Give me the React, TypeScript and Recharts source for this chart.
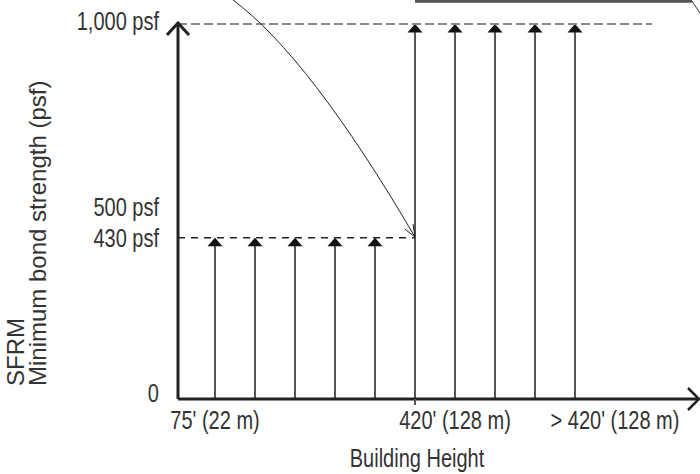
import React from 'react';
import { Bar, ComposedChart, ReferenceDot, ReferenceLine, XAxis, YAxis } from 'recharts';

// arrow slots along the height axis and the bond strength each one reaches
const slots = [1, 2, 3, 4, 5, 6, 7, 8, 9, 10];
const strengths = [430, 430, 430, 430, 430, 1000, 1000, 1000, 1000, 1000];

const xTicks = [1, 6, 7, 11];
const xTickLabels: Record<number, string> = {
    1: "75' (22 m)",
    7: "420' (128 m)",
    11: '> 420\' (128 m)',
};
const yTicks = [0, 430, 500, 1000];
const yTickLabels = ['0', '430 psf', '500 psf', '1,000 psf'];

const xDomain = [0.075, 13.1];
const yDomain = [0, 1000];

const data = slots.map((slot, i) => ({ slot, strength: strengths[i] }));

const FONT = "'Liberation Sans', Arial, sans-serif";

// no condensed face is installed, so squeeze Liberation Sans horizontally
const NarrowText = ({ x, y, anchor, size, children }: any) => (
    <g transform={`translate(${x},${y}) scale(0.8,1)`}>
        <text x={0} y={0} textAnchor={anchor} fontFamily={FONT} fontSize={size} fill="#333">
            {children}
        </text>
    </g>
);

const ArrowBar = (props: any) => {
    const { x, y, width, height } = props;
    const cx = x + width / 2;
    return (
        <g>
            <line x1={cx} y1={y + height} x2={cx} y2={y + 5} stroke="#555" strokeWidth={2} />
            <polygon points={`${cx},${y} ${cx - 7.5},${y + 8.5} ${cx + 7.5},${y + 8.5}`} fill="#111" />
        </g>
    );
};

const XTick = (props: any) => {
    const { x, y, payload } = props;
    const label = xTickLabels[payload.value];
    if (!label) {
        return <line x1={x} y1={y} x2={x} y2={y + 6} stroke="#555" strokeWidth={2} />;
    }
    return (
        <NarrowText x={x} y={y + 30} anchor="middle" size={25}>
            {label}
        </NarrowText>
    );
};

const YTick = (props: any) => {
    const { x, y, payload } = props;
    const i = yTicks.indexOf(payload.value);
    // labels sit a little above their level except 430, which hugs the dashed line
    const nudge = payload.value === 430 ? 9.5 : payload.value === 1000 ? 6 : payload.value === 500 ? 4.5 : 2.5;
    return (
        <NarrowText x={x} y={y + nudge} anchor="end" size={25}>
            {yTickLabels[i]}
        </NarrowText>
    );
};

const YTitle = (props: any) => {
    const vb = props.viewBox;
    const bottom = vb.y + vb.height - 13;
    const x1 = vb.x - 94;
    const x2 = vb.x - 72;
    return (
        <g fontFamily={FONT} fontSize={24} fill="#333">
            <text x={x1} y={bottom} transform={`rotate(-90, ${x1}, ${bottom})`}>SFRM</text>
            <text x={x2} y={bottom} transform={`rotate(-90, ${x2}, ${bottom})`}>Minimum bond strength (psf)</text>
        </g>
    );
};

const XTitle = (props: any) => {
    const vb = props.viewBox;
    return (
        <NarrowText x={vb.x + 239} y={vb.y + 68} anchor="middle" size={25}>
            Building Height
        </NarrowText>
    );
};

const UpChevron = (props: any) => {
    const { cx, cy } = props;
    return (
        <polyline
            points={`${cx - 11},${cy + 11} ${cx},${cy - 1} ${cx + 11},${cy + 11}`}
            fill="none"
            stroke="#222"
            strokeWidth={3}
        />
    );
};

const RightChevron = (props: any) => {
    const { cx, cy } = props;
    return (
        <polyline
            points={`${cx - 11},${cy - 11} ${cx},${cy} ${cx - 11},${cy + 11}`}
            fill="none"
            stroke="#222"
            strokeWidth={2.5}
        />
    );
};

const CurvedArrow = (props: any) => {
    const { x1, y1, x2, y2 } = props;
    const qx = x1 + 0.42 * (x2 - x1);
    const qy = y1 + 0.24 * (y2 - y1);
    const ang = Math.atan2(y2 - qy, x2 - qx);
    const len = 13;
    const spread = 0.38;
    const a1x = x2 - len * Math.cos(ang - spread);
    const a1y = y2 - len * Math.sin(ang - spread);
    const a2x = x2 - len * Math.cos(ang + spread);
    const a2y = y2 - len * Math.sin(ang + spread);
    return (
        <g fill="none" stroke="#222" strokeWidth={1}>
            <path d={`M${x1},${y1} Q${qx},${qy} ${x2},${y2}`} />
            <polyline points={`${a1x},${a1y} ${x2},${y2} ${a2x},${a2y}`} />
        </g>
    );
};

const App: React.FC = () => {
    return (
        <div style={{ position: 'absolute', left: 0, top: 0, width: 700, height: 474, background: '#fff' }}>
            <ComposedChart
                width={700}
                height={474}
                data={data}
                margin={{ top: 24, right: 1, bottom: 45, left: 118 }}
            >
                <XAxis
                    dataKey="slot"
                    type="number"
                    domain={xDomain}
                    allowDataOverflow
                    ticks={xTicks}
                    interval={0}
                    tick={<XTick />}
                    tickLine={false}
                    tickSize={0}
                    tickMargin={0}
                    height={30}
                    axisLine={{ stroke: '#222', strokeWidth: 3 }}
                    label={{ content: <XTitle /> }}
                />
                <YAxis
                    type="number"
                    domain={yDomain}
                    allowDataOverflow
                    ticks={yTicks}
                    interval={0}
                    tick={<YTick />}
                    tickLine={false}
                    tickSize={0}
                    tickMargin={19}
                    width={60}
                    axisLine={{ stroke: '#222', strokeWidth: 3 }}
                    label={{ content: <YTitle /> }}
                />

                {/* dashed guide levels */}
                <ReferenceLine
                    segment={[{ x: xDomain[0], y: 1000 }, { x: 11.925, y: 1000 }]}
                    stroke="#888"
                    strokeWidth={2}
                    strokeDasharray="9 4"
                    ifOverflow="visible"
                />
                <ReferenceLine
                    segment={[{ x: xDomain[0], y: 430 }, { x: 6, y: 430 }]}
                    stroke="#222"
                    strokeWidth={1.5}
                    strokeDasharray="7 6"
                    ifOverflow="visible"
                />

                <Bar dataKey="strength" barSize={16} shape={<ArrowBar />} isAnimationActive={false} />

                {/* callout remnants at the top edge */}
                <ReferenceLine
                    segment={[{ x: 6, y: 1061 }, { x: 12.925, y: 1061 }]}
                    stroke="#555"
                    strokeWidth={3}
                    ifOverflow="visible"
                />
                <ReferenceLine
                    segment={[{ x: 12.925, y: 1061 }, { x: 13.125, y: 1029 }]}
                    stroke="#333"
                    strokeWidth={1}
                    ifOverflow="visible"
                />
                <ReferenceLine
                    segment={[{ x: 1.45, y: 1064 }, { x: 6, y: 432 }]}
                    shape={CurvedArrow}
                    ifOverflow="visible"
                />

                <ReferenceDot x={xDomain[0]} y={1000} shape={UpChevron} ifOverflow="visible" />
                <ReferenceDot x={xDomain[1]} y={0} shape={RightChevron} ifOverflow="visible" />
            </ComposedChart>
        </div>
    );
};

export default App;
